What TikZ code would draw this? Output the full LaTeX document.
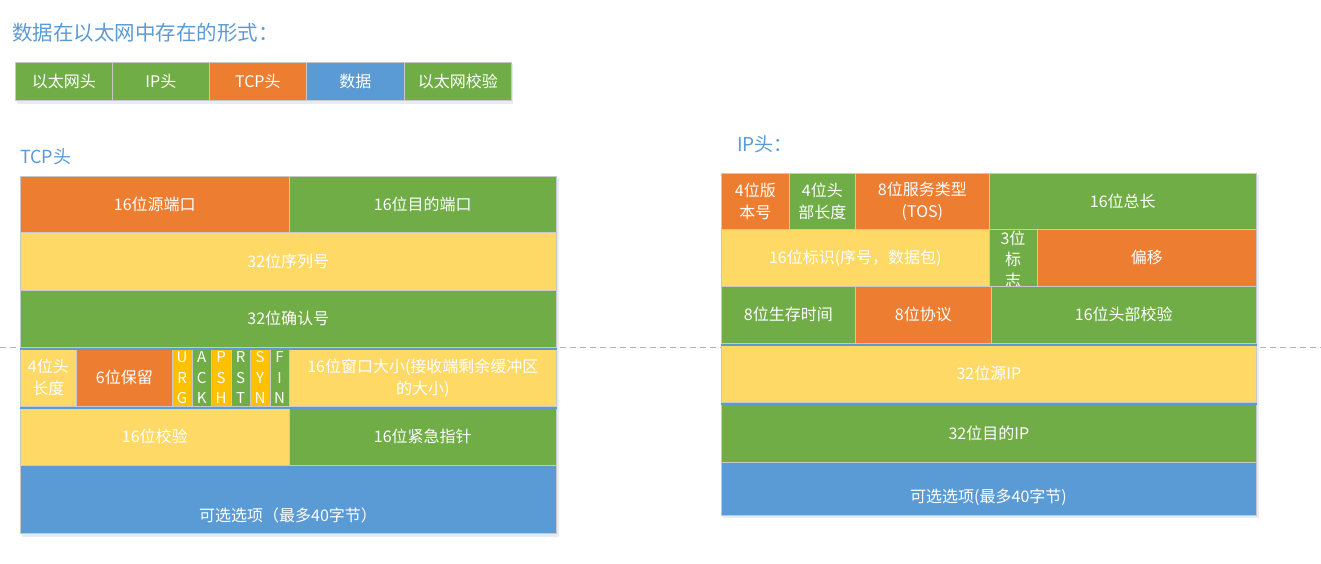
\documentclass[tikz,border=0pt]{standalone}
\usepackage{fontspec}
\setmainfont{Noto Sans CJK SC}
\definecolor{eorange}{HTML}{ED7D31}
\definecolor{egreen}{HTML}{70AD47}
\definecolor{eyellow}{HTML}{FFD966}
\definecolor{eblue}{HTML}{5B9BD5}
\definecolor{fyellow}{HTML}{FFC000}
\definecolor{tblue}{HTML}{5B9BD5}
\definecolor{cellline}{HTML}{C8C8C8}
\definecolor{sepblue}{HTML}{5B9BD5}
\definecolor{shadowc}{HTML}{E6ECF4}
\newcommand\mkcell[7]{\node[cellbox, fill=#6, anchor=north west, minimum width={(#4)-(#2)}, minimum height={(#5)-(#3)}] (#1) at (#2,#3) {#7};}
\begin{document}
\begin{tikzpicture}[x=1pt,y=-1pt,
  cellbox/.style={draw=cellline, line width=0.7pt, text=white, inner sep=0pt, align=center, font=\fontsize{16}{22}\selectfont},
  flagbox/.style={draw=cellline, line width=0.7pt, text=white, inner sep=0pt, align=center, font=\fontsize{15}{20.5}\selectfont, anchor=north west, minimum width=19.5, minimum height=57},
  titletext/.style={text=tblue, anchor=west, inner sep=0pt},
  optext/.style={text=white, inner sep=0pt, font=\fontsize{16}{22}\selectfont},
  shadowbox/.style={fill=shadowc},
  sepline/.style={draw=sepblue, line width=2pt},
  dashline/.style={draw=black!30, line width=0.6pt, dash pattern=on 6pt off 4pt}
]
\useasboundingbox (0,0) rectangle (1321,563);
\fill[white] (0,0) rectangle (1321,563);

% dashed line behind
\coordinate (dl) at (0,347);
\coordinate (dr) at (1321,347);
\draw[dashline] (dl) -- (dr);

% title
\node[titletext, font=\fontsize{20.5}{24}\selectfont] (title) at (12,33) {数据在以太网中存在的形式：};

% frame
\fill[shadowbox] (17,64) rectangle (513,104);
\mkcell{e1}{15}{62}{112}{100}{egreen}{以太网头}
\mkcell{e2}{112}{62}{209}{100}{egreen}{IP头}
\mkcell{e3}{209}{62}{306}{100}{eorange}{TCP头}
\mkcell{e4}{306}{62}{404}{100}{eblue}{数据}
\mkcell{e5}{404}{62}{511}{100}{egreen}{以太网校验}

% TCP header
\node[titletext, font=\fontsize{18}{22}\selectfont] (tcptitle) at (20,157) {TCP头};
\fill[shadowbox] (22,178) rectangle (559,537);
\mkcell{t1}{20}{176}{289}{232}{eorange}{16位源端口}
\mkcell{t2}{289}{176}{556}{232}{egreen}{16位目的端口}
\mkcell{t3}{20}{232}{556}{290}{eyellow}{32位序列号}
\mkcell{t4}{20}{290}{556}{347}{egreen}{32位确认号}
\mkcell{t5}{20}{349}{76}{406}{eyellow}{4位头\\长度}
\mkcell{t6}{76}{349}{172}{406}{eorange}{6位保留}
\node[flagbox, fill=fyellow] (urg) at (172,349) {U\\R\\G};
\node[flagbox, fill=egreen] (ack) at (191.5,349) {A\\C\\K};
\node[flagbox, fill=fyellow] (psh) at (211,349) {P\\S\\H};
\node[flagbox, fill=egreen] (rst) at (230.5,349) {R\\S\\T};
\node[flagbox, fill=fyellow] (syn) at (250,349) {S\\Y\\N};
\node[flagbox, fill=egreen] (fin) at (269.5,349) {F\\I\\N};
\mkcell{t7}{289}{349}{556}{406}{eyellow}{16位窗口大小(接收端剩余缓冲区\\的大小)}
\mkcell{t8}{20}{408}{289}{465}{eyellow}{16位校验}
\mkcell{t9}{289}{408}{556}{465}{egreen}{16位紧急指针}
\mkcell{t10}{20}{465}{556}{533}{eblue}{}
\node[optext] (t10text) at (288,515) {可选选项（最多40字节）};
\draw[sepline] ([yshift=-1pt]t4.south west) -- ([yshift=-1pt]t4.south east);
\draw[sepline] ([yshift=-1pt]t5.south west) -- ([yshift=-1pt]t7.south east);

% IP header
\node[titletext, font=\fontsize{19}{22}\selectfont] (iptitle) at (737,144) {IP头：};
\fill[shadowbox] (723,175) rectangle (1259,518);
\mkcell{i1}{721}{173}{789}{229}{eorange}{4位版\\本号}
\mkcell{i2}{789}{173}{855}{229}{egreen}{4位头\\部长度}
\mkcell{i3}{855}{173}{989}{229}{eorange}{8位服务类型\\(TOS)}
\mkcell{i4}{989}{173}{1256}{229}{egreen}{16位总长}
\mkcell{i5}{721}{229}{989}{286}{eyellow}{16位标识(序号，数据包)}
\mkcell{i6}{989}{229}{1037}{286}{egreen}{}
\node[text=white, inner sep=0pt, align=center, font=\fontsize{16}{21}\selectfont, anchor=north] (i6text) at (1013,231) {3位\\标\\志};
\mkcell{i7}{1037}{229}{1256}{286}{eorange}{偏移}
\mkcell{i8}{721}{286}{855}{343}{egreen}{8位生存时间}
\mkcell{i9}{855}{286}{991}{343}{eorange}{8位协议}
\mkcell{i10}{991}{286}{1256}{343}{egreen}{16位头部校验}
\mkcell{i11}{721}{345}{1256}{402}{eyellow}{32位源IP}
\mkcell{i12}{721}{404}{1256}{462}{egreen}{32位目的IP}
\mkcell{i13}{721}{462}{1256}{515}{eblue}{}
\node[optext] (i13text) at (988.5,497) {可选选项(最多40字节)};
\draw[sepline] ([yshift=-1pt]i8.south west) -- ([yshift=-1pt]i10.south east);
\draw[sepline] ([yshift=-1pt]i11.south west) -- ([yshift=-1pt]i11.south east);
\end{tikzpicture}
\end{document}
